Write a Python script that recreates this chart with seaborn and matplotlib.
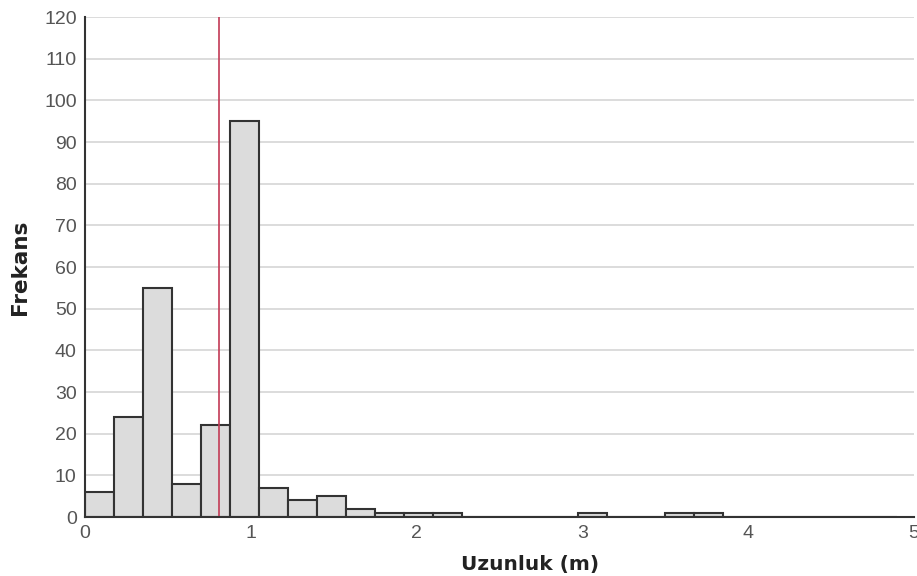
import numpy as np
import pandas as pd
import seaborn as sns
import matplotlib.pyplot as plt

# histogram data: bins of 0.175 m
bin_edges = np.arange(0, 5.0, 0.175)
counts = [6, 24, 55, 8, 22, 95, 7, 4, 5, 2, 1, 1, 1, 0,
          0, 0, 0, 1, 0, 0, 1, 1, 0, 0, 0, 0, 0, 0]
mean_length = 0.81
y_ticks = list(range(0, 121, 10))
x_ticks = [0, 1, 2, 3, 4, 5]


def main():
    sns.set_style("white")
    plt.rcParams['font.family'] = ['Liberation Sans', 'DejaVu Sans']

    centers = (bin_edges[:-1] + bin_edges[1:]) / 2
    df = pd.DataFrame({'length': centers, 'n': counts})

    fig = plt.figure(figsize=(9.17, 5.76), dpi=100)
    ax = fig.add_axes([0.0927, 0.1024, 0.904, 0.868])

    ax.grid(axis='y', color='#d6d6d6', linewidth=1.2)
    ax.set_axisbelow(True)

    sns.histplot(data=df, x='length', weights='n', bins=list(bin_edges), ax=ax,
                 color='#dcdcdc', alpha=1, edgecolor='#333333', linewidth=1.5)

    ax.axvline(mean_length, color='#c23a55', linewidth=1.2)

    ax.set_xlim(0, 5)
    ax.set_ylim(0, 120)
    ax.set_xticks(x_ticks)
    ax.set_yticks(y_ticks)
    ax.tick_params(axis='both', which='both', direction='out', length=4,
                   width=1, colors='#333333', labelsize=14, labelcolor='#555555')
    ax.tick_params(axis='y', pad=2)
    ax.tick_params(axis='x', pad=2)

    for side in ['top', 'right']:
        ax.spines[side].set_visible(False)
    for side in ['left', 'bottom']:
        ax.spines[side].set_color('#333333')
        ax.spines[side].set_linewidth(1.5)

    ax.set_xlabel('Uzunluk (m)', fontsize=14.5, fontweight='bold', color='#222222',
                  family='DejaVu Sans')
    ax.xaxis.set_label_coords(0.537, -0.075)
    ax.set_ylabel('Frekans', fontsize=15.5, fontweight='bold', color='#222222',
                  family='DejaVu Sans')
    ax.yaxis.set_label_coords(-0.066, 0.5)

    fig.savefig('out.png', dpi=100)


if __name__ == "__main__":
    main()
